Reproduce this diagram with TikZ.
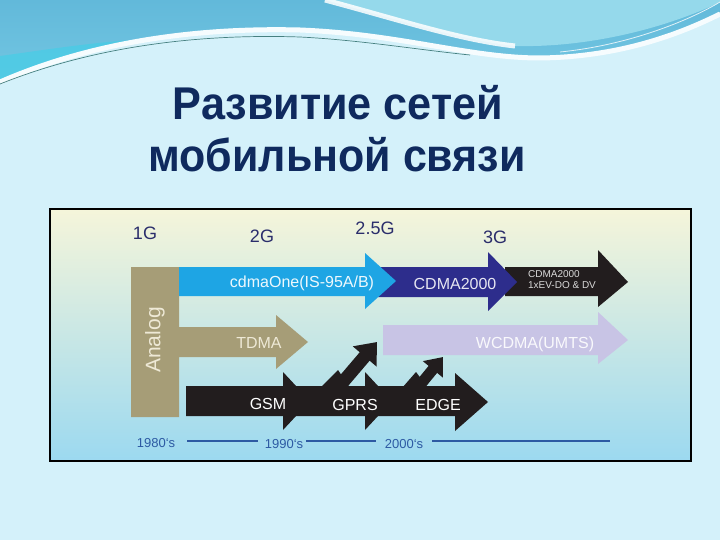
\documentclass[tikz,border=0pt]{standalone}
\usepackage{fontspec}
\setmainfont{Liberation Sans}
\usetikzlibrary{arrows.meta}
\definecolor{bgcol}{HTML}{D4F1FA}
\definecolor{wavedark}{HTML}{62B9DA}
\definecolor{wavemid}{HTML}{72C6E2}
\definecolor{wavecyan}{HTML}{48CDE6}
\definecolor{wavelight}{HTML}{95D9EB}
\definecolor{titlecol}{HTML}{0F2A5E}
\definecolor{paneltop}{HTML}{F5F5DA}
\definecolor{panelmid}{HTML}{D5ECE3}
\definecolor{panelbot}{HTML}{9CD9F0}
\definecolor{khaki}{HTML}{A69D77}
\definecolor{khakitext}{HTML}{EEE9D6}
\definecolor{cdmablue}{HTML}{1EA5E4}
\definecolor{darkblue}{HTML}{2D2D8C}
\definecolor{blackarrow}{HTML}{221D1E}
\definecolor{lavender}{HTML}{C8C4E5}
\definecolor{gencol}{HTML}{2A2D6B}
\definecolor{timecol}{HTML}{2D5AA3}
\tikzset{
  gen/.style={font=\fontsize{18}{20}\selectfont, text=gencol, inner sep=0pt},
  arrowtext/.style={font=\fontsize{16}{18}\selectfont, text=white, inner sep=0pt},
  yeartext/.style={font=\fontsize{13}{15}\selectfont, text=timecol, inner sep=0pt},
  timeline/.style={draw=timecol, line width=2pt},
  titletext/.style={font=\fontsize{45}{50}\selectfont\bfseries, text=titlecol, inner sep=0pt, anchor=base},
  diag/.style={draw=blackarrow, line cap=butt}
}
\begin{document}
\begin{tikzpicture}[x=1pt,y=-1pt]
\useasboundingbox (0,0) rectangle (720,540);
% background
\fill[bgcol] (0,0) rectangle (720,540);
% top wave
\shade[top color=wavedark, bottom color=wavemid]
  (0,0) -- (0,80) .. controls (80,45) and (180,25) .. (300,28)
  .. controls (400,32) and (470,56) .. (540,56)
  .. controls (620,55) and (680,32) .. (720,12) -- (720,0) -- cycle;
\fill[wavecyan, opacity=0.75]
  (0,80) .. controls (40,62) and (80,50) .. (130,40)
  .. controls (80,44) and (30,52) .. (0,56) -- cycle;
\fill[wavelight]
  (325,0) .. controls (400,20) and (460,40) .. (515,46)
  .. controls (600,48) and (680,22) .. (720,2) -- (720,0) -- cycle;
\draw[white, line width=5pt, opacity=0.85]
  (325,0) .. controls (400,20) and (460,40) .. (515,46);
\draw[white!80!bgcol, line width=5pt]
  (0,82) .. controls (80,47) and (180,27) .. (300,30)
  .. controls (400,34) and (470,58) .. (540,58)
  .. controls (620,57) and (680,34) .. (720,14);
\draw[gray!55!teal, line width=0.7pt]
  (0,84) .. controls (80,52) and (180,33) .. (300,37) .. controls (360,40) and (420,50) .. (470,55);
\draw[white, line width=0.8pt, opacity=0.8]
  (560,52) .. controls (630,45) and (690,20) .. (720,2);
% title
\node[titletext] (title1) at (338,120) {\scalebox{0.96}[1.02]{Развитие сетей}};
\node[titletext] (title2) at (337,172) {\scalebox{0.955}[1.02]{мобильной связи}};
% panel
\shade[top color=paneltop, middle color=panelmid, bottom color=panelbot]
  (50,209) rectangle (691,461);
\draw[black, line width=2.2pt] (50,209) rectangle (691,461);
% generation labels
\node[gen] (g1) at (145,233) {1G};
\node[gen] (g2) at (262,236) {2G};
\node[gen] (g25) at (375,228) {2.5G};
\node[gen] (g3) at (495,237) {3G};
% analog + TDMA
\fill[khaki] (131,267) -- (179,267) -- (179,327) -- (276,327) -- (276,315)
  -- (308,342) -- (276,369) -- (276,357) -- (179,357) -- (179,417)
  -- (131,417) -- cycle;
\node[font=\fontsize{21}{23}\selectfont, text=khakitext, rotate=90, inner sep=0pt] (analog) at (155,340) {Analog};
\node[arrowtext, text=khakitext] (tdma) at (259,343) {TDMA};
% CDMA2000 1xEV-DO arrow
\fill[blackarrow] (505,267) -- (598,267) -- (598,250) -- (628,282) -- (598,307)
  -- (598,296) -- (505,296) -- cycle;
% CDMA2000 arrow
\fill[darkblue] (378,267) -- (488,267) -- (488,252) -- (517,282) -- (488,311)
  -- (488,297) -- (378,297) -- cycle;
% cdmaOne arrow
\fill[cdmablue] (179,267) -- (365,267) -- (365,253) -- (396,281) -- (365,309)
  -- (365,296) -- (179,296) -- cycle;
\node[arrowtext, text=white!92!cdmablue] (cdmaone) at (302,283) {cdmaOne(IS-95A/B)};
\node[arrowtext, text=white!88!darkblue] (cdma2000) at (455,284) {CDMA2000};
\node[font=\fontsize{10}{11}\selectfont, text=white!85!black, inner sep=0pt, align=left] (evdo) at (562,280) {CDMA2000\\1xEV-DO \& DV};
% WCDMA
\fill[lavender] (383,325) -- (598,325) -- (598,312) -- (628,340) -- (598,364)
  -- (598,355) -- (383,355) -- cycle;
\node[arrowtext, text=white!90!lavender] (wcdma) at (535,344) {WCDMA(UMTS)};
% GSM / GPRS / EDGE
\fill[blackarrow] (186,386) -- (455,386) -- (455,373) -- (488,402) -- (455,431)
  -- (455,416) -- (186,416) -- cycle;
\fill[blackarrow] (283,372) -- (310,401) -- (283,430) -- cycle;
\fill[blackarrow] (365,372) -- (392,401) -- (365,430) -- cycle;
\fill[blackarrow] (320,388) -- (338,370) -- (350,388) -- cycle;
\fill[blackarrow] (402,388) -- (416,372) -- (428,388) -- cycle;
\draw[diag, line width=13pt, -{Triangle[length=19pt,width=30pt]}] (331,396) -- (377,342);
\draw[diag, line width=11pt, -{Triangle[length=16pt,width=25pt]}] (411,396) -- (443,357);
\node[arrowtext] (gsm) at (268,404) {GSM};
\node[arrowtext] (gprs) at (355,405) {GPRS};
\node[arrowtext] (edge) at (438,405) {EDGE};
% timeline
\node[yeartext] (y80) at (156,443) {1980`s};
\node[yeartext] (y90) at (284,444) {1990`s};
\node[yeartext] (y00) at (404,444) {2000`s};
\coordinate (tlend) at (610,441);
\draw[timeline, shorten <=12pt, shorten >=7pt] (y80.east |- 0,441) -- (y90.west |- 0,441);
\draw[timeline, shorten <=3pt, shorten >=9pt] (y90.east |- 0,441) -- (y00.west |- 0,441);
\draw[timeline, shorten <=9pt] (y00.east |- 0,441) -- (tlend);
\end{tikzpicture}
\end{document}
